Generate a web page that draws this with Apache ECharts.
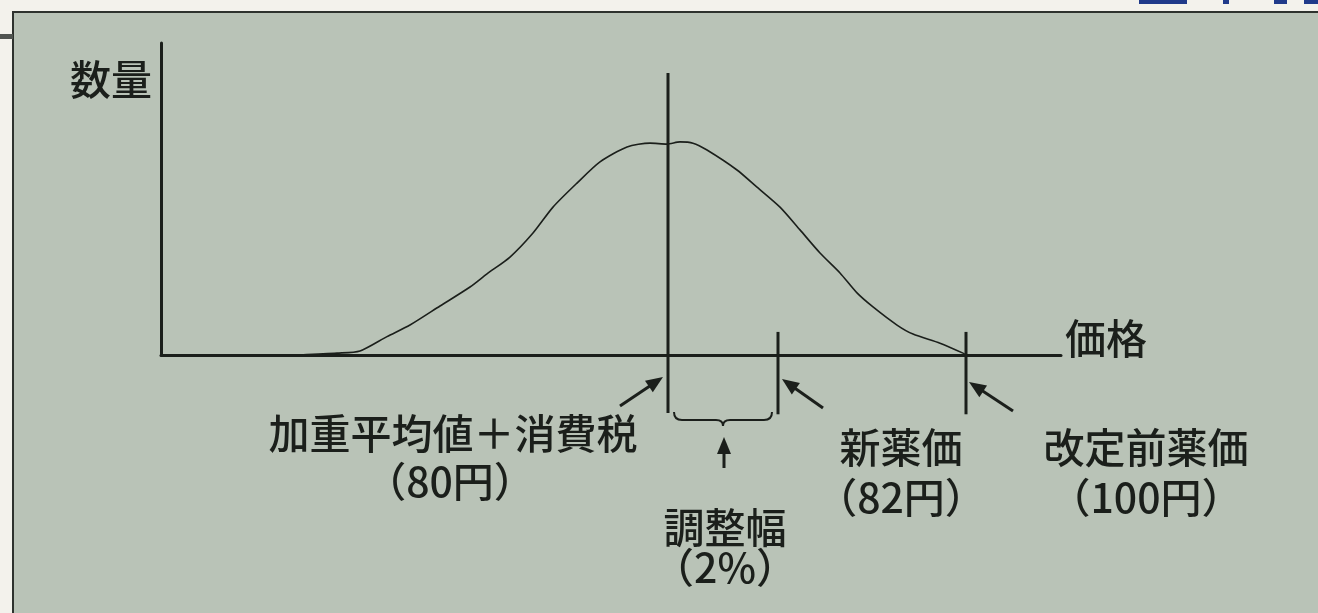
<!DOCTYPE html>
<html>
<head>
<meta charset="utf-8">
<script src="https://cdn.jsdelivr.net/npm/echarts@6/dist/echarts.min.js"></script>
<style>
html, body { margin: 0; padding: 0; background: #f3f2ec; }
#panel { position: absolute; left: 12px; top: 11px; width: 1306px; height: 602px; background: #b9c3b7;
  border-top: 2px solid #2e322e; border-left: 2px solid #2e322e; box-sizing: border-box; }
.ink { position: absolute; background: #1f3a8a; }
#chart { position: absolute; left: 0; top: 0; width: 1318px; height: 613px; }
</style>
</head>
<body>
<div id="panel"></div>
<div class="ink" style="left:1139px;top:0;width:48px;height:4px"></div>
<div class="ink" style="left:1223px;top:0;width:6px;height:4px"></div>
<div class="ink" style="left:1274px;top:0;width:13px;height:4px"></div>
<div class="ink" style="left:1304px;top:0;width:14px;height:4px"></div>
<div style="position:absolute;left:0;top:34px;width:13px;height:5px;background:#505450"></div>
<div id="chart"></div>
<script>
// schematic: price along x (arbitrary units), quantity along y (0-100)
let curveX = [13.9, 17.6, 19.9, 22.6, 24.9, 27.9, 30.9, 32.6, 34.9, 37.2, 39.2, 41.6, 43.9, 46.6, 48.9, 50.6,
  51.9, 53.2, 54.6, 57.6, 59.6, 61.9, 63.9, 65.9, 67.9, 69.6, 71.2, 73.6, 75.2, 77.9, 80.2, 80.5];
let curveY = [0, 0.6, 1.3, 5.9, 9.6, 15.7, 21.8, 26.0, 31.4, 39.1, 47.4, 55.1, 61.9, 66.7, 67.9, 67.6,
  68.3, 67.9, 65.7, 59.3, 53.8, 47.4, 40.1, 32.7, 26.3, 19.9, 15.4, 9.6, 6.7, 3.8, 0.6, 0];

// the three price marks: 80円, 82円, 100円
let priceX = [50.7, 61.7, 80.5];
let lineTop = [90.4, 7.4, 7.4];
let lineBottom = [-18.6, -19, -19];
let priceName = ['加重平均値＋消費税', '新薬価', '改定前薬価'];
let priceYen = ['（80円）', '（82円）', '（100円）'];
let bandName = '調整幅';
let bandRate = '（2%）';

let ink = '#1b1f1b';
let font = '"Noto Sans CJK JP", "Noto Sans CJK SC", sans-serif';
let weight = 500;

let chart = echarts.init(document.getElementById('chart'));

let series = [{
  type: 'line',
  data: curveX.map((x, i) => [x, curveY[i]]),
  showSymbol: false,
  smooth: 0.25,
  lineStyle: { color: ink, width: 1.6 },
  silent: true
}];
for (let i = 0; i < priceX.length; i++) {
  series.push({
    type: 'line',
    data: [[priceX[i], lineTop[i]], [priceX[i], lineBottom[i]]],
    showSymbol: false,
    clip: false,
    lineStyle: { color: ink, width: 3 },
    silent: true
  });
}

chart.setOption({
  animation: false,
  backgroundColor: 'transparent',
  grid: { left: 161, top: 43, width: 900, height: 312, outerBoundsMode: 'none' },
  xAxis: {
    type: 'value', min: 0, max: 90,
    name: '価格', nameLocation: 'end', nameGap: 4,
    nameTextStyle: { color: ink, fontSize: 41, fontWeight: weight, fontFamily: font, verticalAlign: 'bottom', lineHeight: 34 },
    axisLine: { lineStyle: { color: ink, width: 3 } },
    axisTick: { show: false }, axisLabel: { show: false }, splitLine: { show: false }
  },
  yAxis: {
    type: 'value', min: 0, max: 100,
    name: '数量', nameLocation: 'end', nameGap: -16,
    nameTextStyle: { color: ink, fontSize: 41, fontWeight: weight, fontFamily: font, align: 'right', verticalAlign: 'top', padding: [0, 9, 0, 0] },
    axisLine: { show: true, lineStyle: { color: ink, width: 3 } },
    axisTick: { show: false }, axisLabel: { show: false }, splitLine: { show: false }
  },
  series: series
});

// annotations placed from the price marks
let px = priceX.map(x => chart.convertToPixel({ gridIndex: 0 }, [x, 0])[0]);
let ay = chart.convertToPixel({ gridIndex: 0 }, [0, 0])[1];
let mid = (px[0] + px[1]) / 2;

function arrow(x1, y1, x2, y2) {
  let dx = x2 - x1, dy = y2 - y1, len = Math.sqrt(dx * dx + dy * dy);
  let ux = dx / len, uy = dy / len;
  let bx = x2 - ux * 17, by = y2 - uy * 17;
  return [
    { type: 'line', shape: { x1: x1, y1: y1, x2: bx + ux * 2, y2: by + uy * 2 }, style: { stroke: ink, lineWidth: 3 } },
    { type: 'polygon', shape: { points: [[x2, y2], [bx - uy * 7, by + ux * 7], [bx + uy * 7, by - ux * 7]] }, style: { fill: ink } }
  ];
}

function label(text, x, y) {
  return { type: 'text', x: x, y: y, style: { text: text, fill: ink, fontSize: 41, fontWeight: weight, fontFamily: font, align: 'center', verticalAlign: 'middle' } };
}

let L = px[0] + 6, R = px[1] - 6;
let braceStyle = { stroke: ink, lineWidth: 2, fill: null };
let graphics = [].concat(
  arrow(px[0] - 48, ay + 51, px[0] - 5, ay + 22),
  arrow(px[1] + 45, ay + 53, px[1] + 4, ay + 24),
  arrow(px[2] + 47, ay + 56, px[2] + 3, ay + 27),
  arrow(mid + 1, ay + 113, mid + 1, ay + 82),
  [
    { type: 'bezierCurve', shape: { x1: L, y1: ay + 57, cpx1: L, cpy1: ay + 65, x2: L + 8, y2: ay + 65 }, style: braceStyle },
    { type: 'line', shape: { x1: L + 8, y1: ay + 65, x2: mid - 7, y2: ay + 65 }, style: braceStyle },
    { type: 'bezierCurve', shape: { x1: mid - 7, y1: ay + 65, cpx1: mid, cpy1: ay + 65, x2: mid, y2: ay + 71 }, style: braceStyle },
    { type: 'bezierCurve', shape: { x1: mid, y1: ay + 71, cpx1: mid, cpy1: ay + 65, x2: mid + 7, y2: ay + 65 }, style: braceStyle },
    { type: 'line', shape: { x1: mid + 7, y1: ay + 65, x2: R - 8, y2: ay + 65 }, style: braceStyle },
    { type: 'bezierCurve', shape: { x1: R - 8, y1: ay + 65, cpx1: R, cpy1: ay + 65, x2: R, y2: ay + 57 }, style: braceStyle }
  ],
  [
    label(priceName[0], px[0] - 215, ay + 78),
    label(priceYen[0], px[0] - 218, ay + 126),
    label(bandName, mid + 2, ay + 172),
    label(bandRate, mid + 2, ay + 212),
    label(priceName[1], px[1] + 123, ay + 92),
    label(priceYen[1], px[1] + 123, ay + 142),
    label(priceName[2], px[2] + 180, ay + 92),
    label(priceYen[2], px[2] + 180, ay + 142)
  ]
);
chart.setOption({ graphic: { elements: graphics } });
</script>
</body>
</html>
